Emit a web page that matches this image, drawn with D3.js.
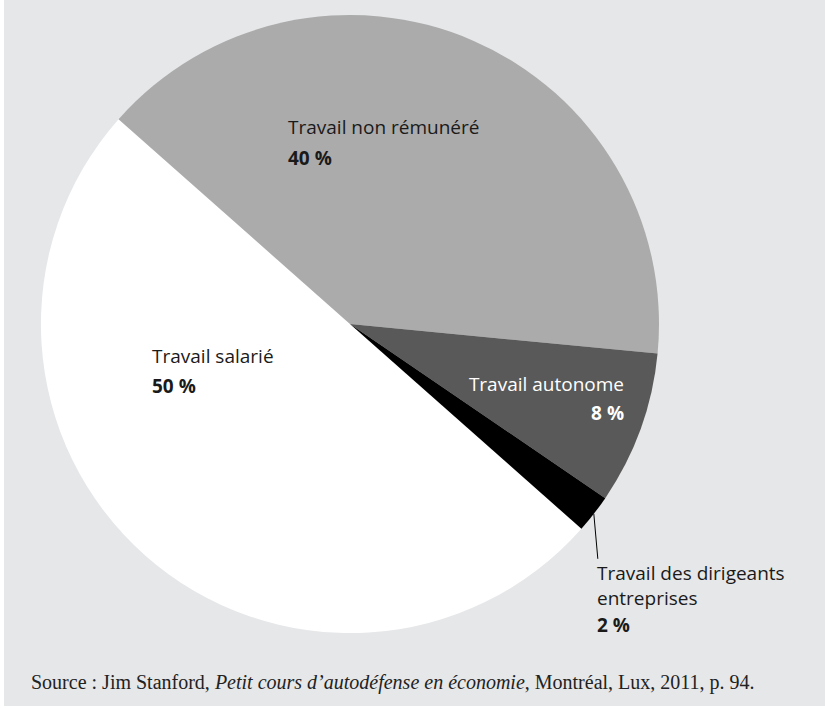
<!DOCTYPE html>
<html>
<head>
<meta charset="utf-8">
<script src="https://cdn.jsdelivr.net/npm/d3@7"></script>
<style>
html,body{margin:0;padding:0;background:#fff;}
svg{display:block;}
</style>
</head>
<body>
<svg id="chart" width="825" height="708"></svg>
<script>
const categories = ["Travail salarié", "Travail non rémunéré", "Travail autonome", "Travail des dirigeants entreprises"];
const values = [50, 40, 8, 2];
const valueLabels = ["50 %", "40 %", "8 %", "2 %"];
const colors = ["#ffffff", "#ababab", "#595959", "#000000"];
const sourceText = ["Source : Jim Stanford, ", "Petit cours d’autodéfense en économie", ", Montréal, Lux, 2011, p. 94."];

const svg = d3.select("#chart");
svg.append("rect").attr("x", 4).attr("y", 0).attr("width", 821).attr("height", 706).attr("fill", "#e6e7e9");

const cx = 350, cy = 324, r = 309;
const startDeg = 131.5;
const pie = d3.pie().sort(null).value(d => d)
  .startAngle(startDeg * Math.PI / 180)
  .endAngle((startDeg + 360) * Math.PI / 180);
const arcs = pie(values);
const arc = d3.arc().innerRadius(0).outerRadius(r);

const g = svg.append("g").attr("transform", `translate(${cx},${cy})`);
g.selectAll("path").data(arcs).enter().append("path")
  .attr("d", arc).attr("fill", (d, i) => colors[i]);

const sans = "'Open Sans', 'Noto Sans', sans-serif";
const fs = 19;
const labelPos = [
  {x: 152, y1: 363, y2: 393, anchor: "start", fill: "#1a1a1a"},
  {x: 288, y1: 134, y2: 165, anchor: "start", fill: "#1a1a1a"},
  {x: 624, y1: 391, y2: 420, anchor: "end", fill: "#ffffff"},
  {x: 597, y1: 580, y2: 632, anchor: "start", fill: "#1a1a1a"}
];

categories.forEach((c, i) => {
  const p = labelPos[i];
  const t = svg.append("text").attr("font-family", sans).attr("font-size", fs)
    .attr("fill", p.fill).attr("text-anchor", p.anchor);
  if (i === 3) {
    t.append("tspan").attr("x", p.x).attr("y", p.y1).text("Travail des dirigeants");
    t.append("tspan").attr("x", p.x).attr("y", p.y1 + 25).text("entreprises");
  } else {
    t.attr("x", p.x).attr("y", p.y1).text(c);
  }
  svg.append("text").attr("font-family", sans).attr("font-size", fs).attr("font-weight", "bold")
    .attr("fill", p.fill).attr("text-anchor", p.anchor)
    .attr("x", p.x).attr("y", p.y2).text(valueLabels[i]);
});

// leader line for the small slice
const small = arcs[3];
const mid = (small.startAngle + small.endAngle) / 2;
const sx = cx + r * Math.sin(mid), sy = cy - r * Math.cos(mid);
svg.append("line").attr("x1", sx).attr("y1", sy).attr("x2", sx + 4).attr("y2", sy + 45)
  .attr("stroke", "#000").attr("stroke-width", 1);

// source
const src = svg.append("text").attr("x", 31).attr("y", 689)
  .attr("font-family", "'Liberation Serif', 'DejaVu Serif', serif").attr("font-size", 20).attr("fill", "#222");
src.append("tspan").text(sourceText[0]);
src.append("tspan").attr("font-style", "italic").text(sourceText[1]);
src.append("tspan").text(sourceText[2]);
</script>
</body>
</html>
